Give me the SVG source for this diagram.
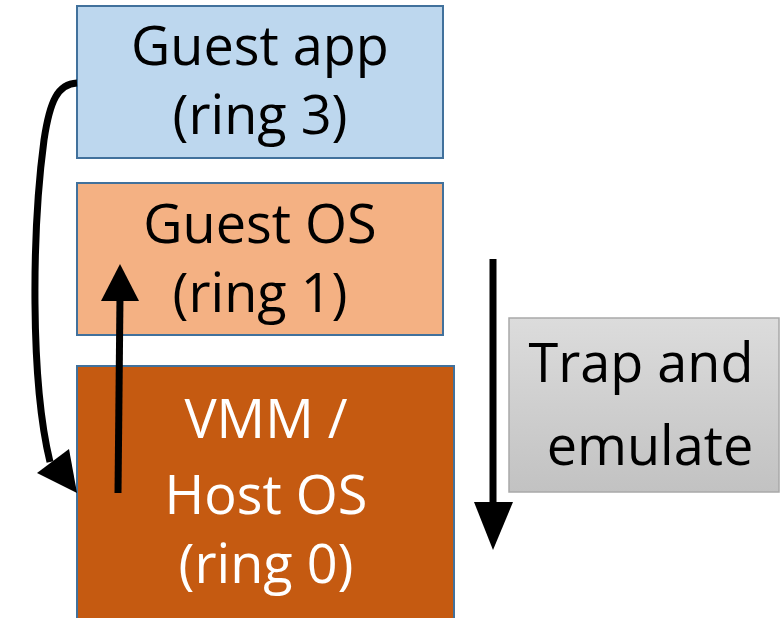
<svg xmlns="http://www.w3.org/2000/svg" width="784" height="618" viewBox="0 0 784 618">
  <defs>
    <linearGradient id="gray" x1="0" y1="0" x2="0" y2="1">
      <stop offset="0" stop-color="#DCDCDC"/>
      <stop offset="1" stop-color="#C2C2C2"/>
    </linearGradient>
    <style>
      .box { stroke: #41719C; stroke-width: 2; }
      .lbl { font-family: "Open Sans", "Liberation Sans", sans-serif; font-size: 54px; text-anchor: middle; fill: #000; }
      .white { fill: #FFFFFF; }
      .conn { fill: none; stroke: #000; stroke-width: 7; }
      .head { fill: #000; stroke: none; }
    </style>
  </defs>
  <rect width="784" height="618" fill="#FFFFFF"/>

  <g id="guest-app">
    <rect class="box" x="77" y="6" width="366" height="152" fill="#BDD7EE"/>
    <text class="lbl" x="260" y="65">Guest app</text>
    <text class="lbl" x="260" y="134">(ring 3)</text>
  </g>

  <g id="guest-os">
    <rect class="box" x="77" y="183" width="366" height="152" fill="#F4B183"/>
    <text class="lbl" x="260" y="243">Guest OS</text>
    <text class="lbl" x="260" y="312">(ring 1)</text>
  </g>

  <g id="vmm">
    <rect class="box" x="77" y="366" width="377" height="262" fill="#C55A11"/>
    <text class="lbl white" x="266" y="438">VMM /</text>
    <text class="lbl white" x="266" y="514">Host OS</text>
    <text class="lbl white" x="266" y="583">(ring 0)</text>
  </g>

  <g id="trap">
    <rect x="509" y="318" width="270" height="174" fill="url(#gray)" stroke="#A9A9A9" stroke-width="1.5"/>
    <text class="lbl" x="641" y="382">Trap and</text>
    <text class="lbl" x="650" y="465">emulate</text>
  </g>

  <g id="connectors">
    <path class="conn" d="M77,83 C58,84 50,100 44,140 C32,230 30,380 50,462"/>
    <polygon class="head" points="77,493 37,473 69,449"/>
    <line class="conn" x1="118" y1="493" x2="120" y2="296"/>
    <polygon class="head" points="120,264 101,301 139,301"/>
    <line class="conn" x1="493" y1="259" x2="493" y2="506"/>
    <polygon class="head" points="493,550 474,502 513,502"/>
  </g>
</svg>
